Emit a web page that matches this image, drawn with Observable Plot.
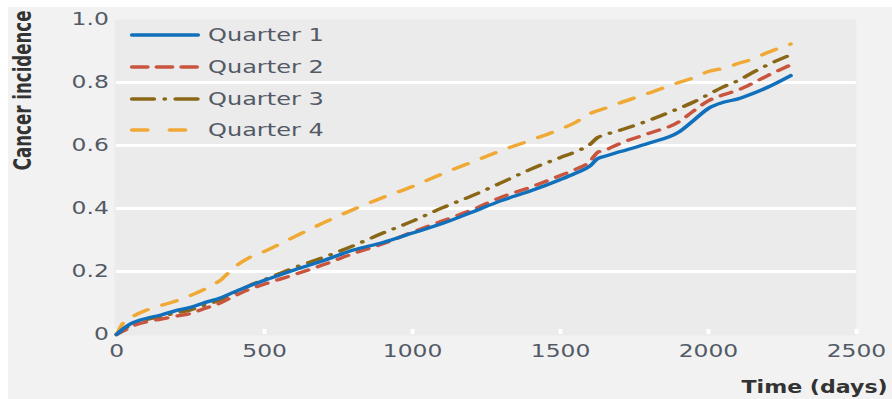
<!DOCTYPE html>
<html>
<head>
<meta charset="utf-8">
<script src="https://cdn.jsdelivr.net/npm/d3@7"></script>
<script src="https://cdn.jsdelivr.net/npm/@observablehq/plot@0.6"></script>
<style>
  html, body { margin: 0; padding: 0; background: white; }
  #wrap { position: relative; width: 892px; height: 399px; background: white; overflow: hidden; }
  #bg { position: absolute; left: 8px; top: 7px; right: 0; bottom: 0; background: #f2f2f2; }
  #wrap svg { position: absolute; left: 0; top: 0; }
</style>
</head>
<body>
<div id="wrap"><div id="bg"></div></div>
<script>
// ---- data ----
const days = [0,25,50,100,150,200,250,300,350,400,450,500,600,700,800,900,1000,1100,1200,1300,1400,1500,1550,1600,1625,1650,1700,1800,1900,1950,2000,2050,2100,2150,2200,2278];
const q1 = [0,0.02,0.035,0.051,0.062,0.076,0.086,0.102,0.116,0.136,0.155,0.172,0.205,0.235,0.268,0.292,0.322,0.352,0.388,0.425,0.456,0.492,0.512,0.535,0.558,0.566,0.580,0.608,0.643,0.68,0.718,0.737,0.748,0.765,0.785,0.822];
const q2 = [0,0.012,0.025,0.04,0.049,0.058,0.067,0.083,0.1,0.123,0.144,0.16,0.19,0.222,0.257,0.288,0.325,0.36,0.395,0.436,0.468,0.505,0.524,0.55,0.578,0.585,0.606,0.639,0.675,0.71,0.742,0.761,0.776,0.798,0.822,0.856];
const q3 = [0,0.018,0.03,0.047,0.057,0.068,0.078,0.094,0.11,0.133,0.156,0.174,0.212,0.245,0.282,0.322,0.36,0.402,0.44,0.482,0.525,0.562,0.58,0.604,0.625,0.634,0.648,0.68,0.718,0.738,0.762,0.786,0.806,0.832,0.856,0.888];
const q4 = [0,0.04,0.055,0.077,0.092,0.106,0.124,0.145,0.172,0.215,0.245,0.264,0.31,0.355,0.397,0.435,0.47,0.51,0.547,0.584,0.617,0.652,0.673,0.702,0.71,0.718,0.735,0.767,0.8,0.815,0.835,0.845,0.86,0.875,0.895,0.922];
const seriesNames = ["Quarter 1", "Quarter 2", "Quarter 3", "Quarter 4"];
const seriesValues = [q1, q2, q3, q4];
const xTicks = [0, 500, 1000, 1500, 2000, 2500];
const xTickLabels = ["0", "500", "1000", "1500", "2000", "2500"];
const yTicks = [0, 0.2, 0.4, 0.6, 0.8, 1.0];
const yTickLabels = ["0", "0.2", "0.4", "0.6", "0.8", "1.0"];
const gridValues = [0.2, 0.4, 0.6, 0.8];
const xTitle = "Time (days)";
const yTitle = "Cancer incidence";

// ---- styles ----
const colors = {"Quarter 1": "#1070bb", "Quarter 2": "#c9553f", "Quarter 3": "#8a6716", "Quarter 4": "#f0a934"};
const dashes = {"Quarter 1": null, "Quarter 2": "9,8", "Quarter 3": "11,8,0.5,8", "Quarter 4": "12,12"};
const legendDashes = {"Quarter 1": null, "Quarter 2": "12,7", "Quarter 3": "17,8,0.5,8", "Quarter 4": "12,17"};
const drawOrder = ["Quarter 4", "Quarter 3", "Quarter 2", "Quarter 1"];

const STRETCH = 1.3;
const W = 686, H = 399;
const tickColor = "#535a66";

const table = [];
seriesNames.forEach((name, s) => days.forEach((d, i) => table.push({series: name, day: d, value: seriesValues[s][i]})));

const lineMarks = drawOrder.map(name => Plot.line(table.filter(r => r.series === name), {
  x: "day", y: "value",
  stroke: colors[name], strokeWidth: 3.3,
  strokeDasharray: dashes[name] || undefined,
  strokeLinecap: "round", strokeLinejoin: "round",
  curve: "monotone-x"
}));

const svg = Plot.plot({
  width: W, height: H,
  marginTop: 19, marginBottom: 65, marginLeft: 89.2, marginRight: 27.7,
  style: {background: "transparent", fontFamily: "'DejaVu Sans', sans-serif", fontSize: "18px", color: tickColor, overflow: "visible"},
  x: {domain: [0, 2500]},
  y: {domain: [0, 1]},
  marks: [
    Plot.frame({fill: "#ebebeb", stroke: null, insetLeft: -1.5, insetBottom: -1}),
    Plot.gridY(gridValues, {stroke: "white", strokeOpacity: 1, strokeWidth: 3}),
    Plot.ruleX(xTicks, {x: d => d, stroke: "white", strokeWidth: 3, insetTop: 310}),
    ...lineMarks,
    Plot.axisX(xTicks, {tickSize: 0, tickPadding: 10, tickFormat: d => xTickLabels[xTicks.indexOf(d)], fontSize: 18, fill: tickColor, label: null}),
    Plot.axisY(yTicks, {tickSize: 0, tickPadding: 6, tickFormat: d => yTickLabels[yTicks.indexOf(d)], fontSize: 18, fill: tickColor, label: null}),
    Plot.text([xTitle], {frameAnchor: "bottom-right", textAnchor: "end", lineAnchor: "middle", dx: 24, dy: 53, fontWeight: "bold", fontSize: 17, fill: "#333"}),
    Plot.text([yTitle], {frameAnchor: "top-left", rotate: -90, textAnchor: "end", lineAnchor: "middle", dx: -71.5, dy: -9, fontWeight: "bold", fontSize: 18.5, fill: "#333", fontFamily: "'DejaVu Sans Condensed', 'DejaVu Sans', sans-serif", fontStretch: "condensed"})
  ]
});

// legend (drawn in the same coordinate space)
const lg = d3.select(svg).append("g")
  .attr("font-family", "'DejaVu Sans', sans-serif")
  .attr("font-size", 18.5)
  .attr("text-anchor", "start");
const rows = [35, 67, 99, 130];
seriesNames.forEach((name, i) => {
  lg.append("line").attr("x1", 101.5).attr("x2", 152.3).attr("y1", rows[i]).attr("y2", rows[i])
    .attr("stroke", colors[name]).attr("stroke-width", 3.3)
    .attr("stroke-dasharray", legendDashes[name] || null)
    .attr("stroke-linecap", "round");
  lg.append("text").attr("x", 160).attr("y", rows[i]).attr("dy", "0.35em")
    .attr("text-anchor", "start")
    .attr("fill", tickColor).text(name);
});

svg.setAttribute("width", W * STRETCH);
svg.setAttribute("height", H);
svg.setAttribute("preserveAspectRatio", "none");
svg.style.width = (W * STRETCH) + "px";
svg.style.height = H + "px";
svg.style.maxWidth = "none";
document.getElementById("wrap").appendChild(svg);
</script>
</body>
</html>
